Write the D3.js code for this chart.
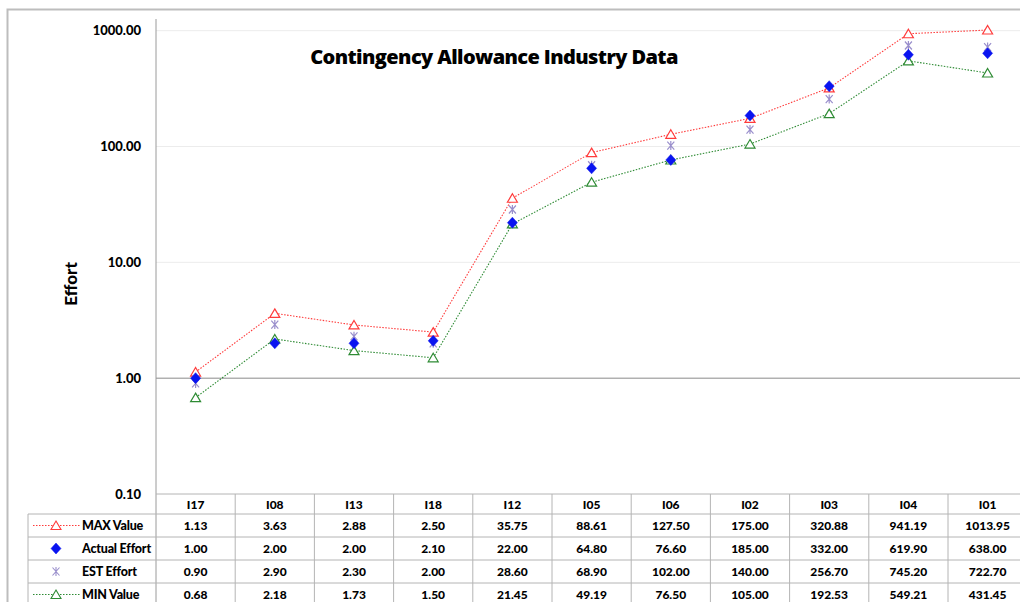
<!DOCTYPE html>
<html>
<head>
<meta charset="utf-8">
<script src="https://cdn.jsdelivr.net/npm/d3@7/dist/d3.min.js"></script>
<style>
  body { margin: 0; background: #fff; }
  svg { display: block; font-family: Lato, "Open Sans", sans-serif; }
  .lbl { font-weight: 900; fill: #000; }
</style>
</head>
<body>
<svg width="1020" height="602"></svg>
<script>
  // DATA
  const categories = ["I17", "I08", "I13", "I18", "I12", "I05", "I06", "I02", "I03", "I04", "I01"];
  const maxValue = [1.13, 3.63, 2.88, 2.50, 35.75, 88.61, 127.50, 175.00, 320.88, 941.19, 1013.95];
  const actualEffort = [1.00, 2.00, 2.00, 2.10, 22.00, 64.80, 76.60, 185.00, 332.00, 619.90, 638.00];
  const estEffort = [0.90, 2.90, 2.30, 2.00, 28.60, 68.90, 102.00, 140.00, 256.70, 745.20, 722.70];
  const minValue = [0.68, 2.18, 1.73, 1.50, 21.45, 49.19, 76.50, 105.00, 192.53, 549.21, 431.45];
  const yTicks = [0.1, 1, 10, 100, 1000];
  const seriesNames = ["MAX Value", "Actual Effort", "EST Effort", "MIN Value"];

  const svg = d3.select("svg");

  // LAYOUT
  const plotLeft = 156, plotTop = 19, plotBottom = 494;
  const colW = 79.2;
  const rowLines = [494, 514, 537, 560, 583, 606];

  const x = d3.scaleBand().domain(categories).range([plotLeft, plotLeft + colW * categories.length]);
  const y = d3.scaleLog().domain([0.1, 1000]).range([plotBottom, 30.7]);
  const cx = (i) => x(categories[i]) + x.bandwidth() / 2;

  // OUTER BORDER
  svg.append("rect")
    .attr("x", 7.5).attr("y", 9.5).attr("width", 1040).attr("height", 620)
    .attr("fill", "none").attr("stroke", "#bdbdbd").attr("stroke-width", 2);

  // GRIDLINES + Y AXIS
  const yAxis = d3.axisLeft(y).tickValues(yTicks).tickSize(0).tickPadding(15)
    .tickFormat(d3.format(".2f"));
  const yAxisG = svg.append("g").attr("transform", `translate(${plotLeft},0)`).call(yAxis);
  yAxisG.select(".domain").remove();
  yAxisG.selectAll("text").attr("class", "lbl").style("font-size", "13px")
    .style("font-family", "Lato, sans-serif");

  svg.append("g").selectAll("line").data(yTicks.filter(d => d !== 1 && d !== 0.1)).join("line")
    .attr("x1", plotLeft).attr("x2", 1030)
    .attr("y1", d => y(d)).attr("y2", d => y(d))
    .attr("stroke", "#ececec");
  // category axis crosses at 1
  svg.append("line").attr("x1", plotLeft).attr("x2", 1030)
    .attr("y1", y(1)).attr("y2", y(1)).attr("stroke", "#8a8a8a");
  svg.append("line").attr("x1", plotLeft).attr("x2", plotLeft)
    .attr("y1", plotTop).attr("y2", 606).attr("stroke", "#9a9a9a");

  // TITLE + AXIS LABEL
  svg.append("text").attr("class", "lbl").attr("x", 494).attr("y", 64)
    .attr("text-anchor", "middle").style("font-size", "20px")
    .style("font-family", "'Open Sans', sans-serif").style("font-weight", "800")
    .style("letter-spacing", "-0.6px")
    .text("Contingency Allowance Industry Data");
  svg.append("text").attr("class", "lbl")
    .attr("transform", `translate(77,284) rotate(-90)`)
    .attr("text-anchor", "middle").style("font-size", "17px")
    .text("Effort");

  // MARKER PATHS
  const tri = "M0,-4.5L5,4L-5,4Z";
  const diamond = "M0,-5.5L5,0L0,5.5L-5,0Z";
  const star = "M-3.5,-4L3.5,4M3.5,-4L-3.5,4M0,-4.5L0,4.5";

  const series = [
    { name: seriesNames[0], values: maxValue, color: "#ff3b3b", line: true, path: tri, fill: "#fff" },
    { name: seriesNames[1], values: actualEffort, color: "#0a14f0", line: false, path: diamond, fill: "#0a14f0" },
    { name: seriesNames[2], values: estEffort, color: "#9a8fcc", line: false, path: star, fill: "none" },
    { name: seriesNames[3], values: minValue, color: "#2e8b34", line: true, path: tri, fill: "#fff" }
  ];

  const lineGen = d3.line().x((d, i) => cx(i)).y(d => y(d));

  series.filter(s => s.line).forEach(s => {
    svg.append("path").datum(s.values).attr("d", lineGen)
      .attr("fill", "none").attr("stroke", s.color).attr("stroke-width", 1.1)
      .attr("stroke-dasharray", "1.5,1.5");
  });

  // draw order: MAX, MIN, EST, Actual
  [series[0], series[3], series[2], series[1]].forEach(s => {
    svg.append("g").selectAll("path").data(s.values).join("path")
      .attr("transform", (d, i) => `translate(${cx(i)},${y(d)})`)
      .attr("d", s.path)
      .attr("fill", s.fill).attr("stroke", s.color)
      .attr("stroke-width", s.path === diamond ? 0.5 : 1.2);
  });

  // DATA TABLE
  const table = svg.append("g");
  const gridColor = "#b4b4b4";
  rowLines.forEach((ry, k) => {
    table.append("line")
      .attr("x1", k === 0 ? plotLeft : 28).attr("x2", 1030)
      .attr("y1", ry).attr("y2", ry).attr("stroke", gridColor);
  });
  table.append("line").attr("x1", 28).attr("x2", 28)
    .attr("y1", rowLines[1]).attr("y2", 606).attr("stroke", gridColor);
  table.selectAll(".vline").data(categories.slice(1)).join("line")
    .attr("x1", d => x(d)).attr("x2", d => x(d))
    .attr("y1", rowLines[0]).attr("y2", 606).attr("stroke", gridColor);

  // header
  table.selectAll(".cat").data(categories).join("text")
    .attr("class", "lbl").attr("x", (d, i) => cx(i)).attr("y", 509)
    .attr("text-anchor", "middle").style("font-size", "12px")
    .text(d => d);

  series.forEach((s, r) => {
    const midY = (rowLines[r + 1] + rowLines[r + 2]) / 2;
    // legend key
    if (s.line) {
      table.append("line").attr("x1", 33).attr("x2", 80)
        .attr("y1", midY).attr("y2", midY)
        .attr("stroke", s.color).attr("stroke-dasharray", "1.5,1.5");
    }
    table.append("path").attr("transform", `translate(56,${midY})`)
      .attr("d", s.path).attr("fill", s.fill).attr("stroke", s.color)
      .attr("stroke-width", s.path === diamond ? 0.5 : 1.1);
    table.append("text").attr("class", "lbl").attr("x", 82).attr("y", midY + 4)
      .style("font-size", "12.5px").style("letter-spacing", "-0.2px").text(s.name);
    table.append("g").selectAll("text").data(s.values).join("text")
      .attr("class", "lbl").attr("x", (d, i) => cx(i)).attr("y", midY + 4.5)
      .attr("text-anchor", "middle").style("font-size", "12px")
      .text(d => d3.format(".2f")(d));
  });
</script>
</body>
</html>
